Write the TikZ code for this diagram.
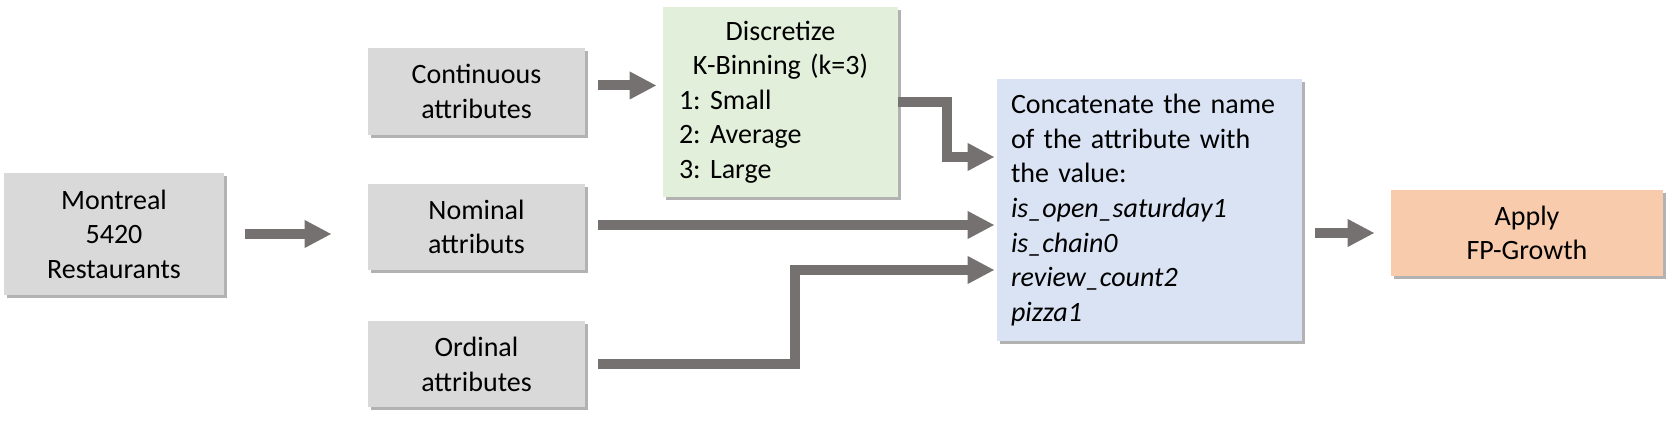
\documentclass[tikz,border=0pt]{standalone}
\usepackage{fontspec}
\setmainfont{Carlito}
\usetikzlibrary{arrows.meta, shadows}
\definecolor{boxgray}{HTML}{D9D9D9}
\definecolor{boxgreen}{HTML}{E2EFDA}
\definecolor{boxblue}{HTML}{DAE3F3}
\definecolor{boxorange}{HTML}{F8CBAD}
\definecolor{arrowgray}{HTML}{767171}
\frenchspacing

\begin{document}
\begin{tikzpicture}[x=0.5pt,y=0.5pt,yscale=-1,xscale=1,
  box/.style={fill=#1, align=center, inner sep=0pt, font=\fontsize{14pt}{17.3pt}\selectfont,
    drop shadow={shadow xshift=1.5pt, shadow yshift=-1.5pt, opacity=0.3, fill=black}},
  fatarrow/.style={draw=arrowgray, line width=5pt, -{Triangle[length=13.5pt,width=13pt]}}]
\useasboundingbox (0,0) rectangle (1671,431);

%Shape: Rectangle [id:mtl]
\node[box=boxgray, minimum width=110pt, minimum height=61pt] (mtl) at (114,234) {Montreal\\5420\\Restaurants};
%Shape: Rectangle [id:con]
\node[box=boxgray, minimum width=108.5pt, minimum height=43.5pt] (con) at (476.5,91.5) {Continuous\\attributes};
%Shape: Rectangle [id:nom]
\node[box=boxgray, minimum width=108.5pt, minimum height=43pt] (nom) at (476.5,227) {Nominal\\attributs};
%Shape: Rectangle [id:ord]
\node[box=boxgray, minimum width=108.5pt, minimum height=43pt] (ord) at (476.5,364.5) {Ordinal\\attributes};
%Shape: Rectangle [id:dis]
\node[box=boxgreen, align=left, text width=101.5pt, inner xsep=8pt, minimum height=95pt] (dis) at (780.5,102)
  {\makebox[\linewidth]{Discretize}\\\makebox[\linewidth]{K-Binning (k=3)}\\1: Small\\2: Average\\3: Large};
%Shape: Rectangle [id:cat]
\node[box=boxblue, align=left, text width=138.5pt, inner xsep=7pt, minimum height=131pt] (cat) at (1149.5,210)
  {Concatenate the name\\of the attribute with\\the value:\\\textit{is\_open\_saturday1}\\\textit{is\_chain0}\\\textit{review\_count2}\\\textit{pizza1}};
%Shape: Rectangle [id:app]
\node[box=boxorange, minimum width=136pt, minimum height=43pt] (app) at (1527,233) {Apply\\FP-Growth};

%Straight Lines
\draw[fatarrow, shorten <=10.5pt, shorten >=18pt] (mtl.east) -- (mtl.east -| nom.west);
\draw[fatarrow, shorten <=6.5pt, shorten >=3pt] ([yshift=-3pt]con.east) -- ([yshift=-3pt]con.east -| dis.west);
\draw[fatarrow, shorten >=1pt] (dis.east) -- ++(49,0) |- (cat.west |- 0,157);
\draw[fatarrow, shorten <=6.5pt, shorten >=1pt] ([yshift=-1pt]nom.east) -- ([yshift=-1pt]nom.east -| cat.west);
\draw[fatarrow, shorten <=6.5pt, shorten >=1pt] (ord.east) -| (795,270) -- (cat.west |- 0,270);
\draw[fatarrow, shorten <=6.5pt, shorten >=8pt] (cat.east |- app.west) -- (app.west);

\end{tikzpicture}
\end{document}
